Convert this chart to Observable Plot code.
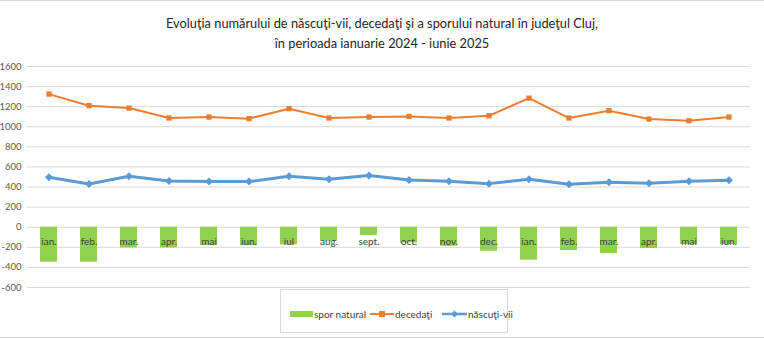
<!DOCTYPE html>
<html>
<head>
<meta charset="utf-8">
<script src="https://cdn.jsdelivr.net/npm/d3@7"></script>
<script src="https://cdn.jsdelivr.net/npm/@observablehq/plot@0.6"></script>
<style>
  html, body { margin: 0; padding: 0; background: #fff; }
  #wrap { position: relative; width: 764px; height: 339px; overflow: hidden; font-family: Lato, "Open Sans", sans-serif; border-top: 1px solid #d9d9d9; box-sizing: border-box; }
  #title { position: absolute; left: 0; top: 12px; width: 764px; text-align: center; font-size: 12.8px; line-height: 20px; color: #262626; }
  #chart { position: absolute; left: 0; top: 57px; }
  #legend { position: absolute; left: 280px; top: 288px; width: 228px; height: 44px; border: 1px solid #d9d9d9; box-sizing: border-box; font-size: 10px; color: #404040; }
  .item { position: absolute; top: 18px; display: flex; align-items: center; height: 12px; white-space: nowrap; }
  #bottomline { position: absolute; left: 0; top: 336px; width: 764px; height: 1px; background: #d9d9d9; }
</style>
</head>
<body>
<div id="wrap">
  <div id="title">Evoluţia numărului de născuţi-vii, decedaţi şi a sporului natural în judeţul Cluj,<br>în perioada ianuarie 2024 - iunie 2025</div>
  <div id="chart"></div>
  <div id="legend"></div>
  <div id="bottomline"></div>
</div>
<script>
const months = ["ian.","feb.","mar.","apr.","mai","iun.","iul","aug.","sept.","oct.","nov.","dec.","ian.","feb.","mar.","apr.","mai","iun."];
const decedati = [1325,1210,1186,1087,1097,1081,1180,1087,1097,1103,1087,1110,1285,1087,1160,1077,1060,1097];
const nascutiVii = [497,430,507,460,454,454,507,477,514,470,457,434,477,427,447,437,457,467];
const sporNatural = [-348,-348,-206,-206,-182,-182,-176,-139,-83,-156,-189,-239,-328,-232,-262,-212,-172,-172];
const yTicks = [-600,-400,-200,0,200,400,600,800,1000,1200,1400,1600];
const seriesNames = ["spor natural","decedaţi","născuţi-vii"];
const colors = {green: "#92d050", orange: "#ed7d31", blue: "#5b9bd5"};

const rows = months.map((m, i) => ({i, m, d: decedati[i], n: nascutiVii[i], s: sporNatural[i]}));

const plot = Plot.plot({
  width: 764,
  height: 234,
  marginLeft: 27,
  marginRight: 14,
  marginTop: 8,
  marginBottom: 5,
  style: {fontFamily: "Lato, 'Open Sans', sans-serif", fontSize: "9.5px", color: "#595959", background: "transparent"},
  x: {type: "band", domain: d3.range(months.length), paddingInner: 0.58, paddingOuter: 0.29, axis: null},
  y: {domain: [-600, 1600], ticks: yTicks, grid: false, axis: null},
  marks: [
    Plot.gridY(yTicks, {stroke: "#d9d9d9", strokeOpacity: 1, strokeWidth: 1}),
    Plot.axisY(yTicks, {tickSize: 0, tickPadding: 6, fill: "#595959", fontSize: 9.5, tickFormat: d => String(d)}),
    Plot.barY(rows, {x: "i", y: "s", fill: colors.green}),
    Plot.text(rows, {x: "i", y: () => 0, text: "m", dy: 15, fill: "#404040", fontSize: 10}),
    Plot.line(rows, {x: "i", y: "d", stroke: colors.orange, strokeWidth: 2}),
    Plot.dot(rows, {x: "i", y: "d", symbol: "square", r: 3, fill: colors.orange, stroke: "none"}),
    Plot.line(rows, {x: "i", y: "n", stroke: colors.blue, strokeWidth: 3}),
    Plot.dot(rows, {x: "i", y: "n", symbol: "diamond2", r: 3.6, fill: colors.blue, stroke: "none"})
  ]
});
document.getElementById("chart").appendChild(plot);

// Legend
const legend = document.getElementById("legend");
const items = [
  {name: seriesNames[0], left: 9, kind: "bar", color: colors.green},
  {name: seriesNames[1], left: 89, kind: "square", color: colors.orange},
  {name: seriesNames[2], left: 161, kind: "diamond", color: colors.blue}
];
for (const it of items) {
  const d = document.createElement("div");
  d.className = "item";
  d.style.left = it.left + "px";
  let sw;
  if (it.kind === "bar") {
    sw = `<svg width="23" height="12"><rect x="0" y="3" width="23" height="6" fill="${it.color}"/></svg>`;
  } else if (it.kind === "square") {
    sw = `<svg width="24" height="12"><line x1="0" x2="24" y1="6" y2="6" stroke="${it.color}" stroke-width="2"/><rect x="9" y="3" width="6" height="6" fill="${it.color}"/></svg>`;
  } else {
    sw = `<svg width="25" height="12"><line x1="0" x2="25" y1="6" y2="6" stroke="${it.color}" stroke-width="2.5"/><path d="M12.5,2.5L16,6L12.5,9.5L9,6Z" fill="${it.color}"/></svg>`;
  }
  d.innerHTML = sw + `<span style="margin-left:1px">${it.name}</span>`;
  legend.appendChild(d);
}
</script>
</body>
</html>
